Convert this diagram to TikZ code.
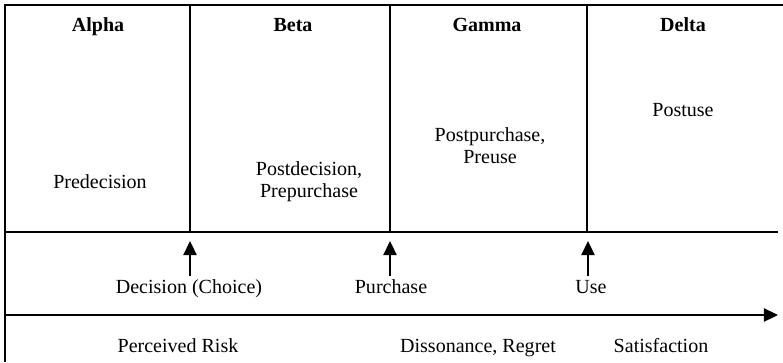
\documentclass[tikz,border=0pt]{standalone}
\usepackage{fontspec}
\setmainfont{Liberation Serif}
\usetikzlibrary{arrows.meta}

\begin{document}
\begin{tikzpicture}[x=0.02cm, y=-0.02cm, line width=1pt,
                    every node/.style={font=\fontsize{11.4}{12.6}\selectfont, inner sep=0pt},
                    word/.style={text height=1.55ex, text depth=0.45ex},
                    phase/.style={word, font=\fontsize{11.4}{12.6}\selectfont\bfseries},
                    stage/.style={align=center},
                    marker/.style={-{Triangle[length=8pt,width=7.5pt]}}]
  \useasboundingbox (0,0) rectangle (783,362);
  % frame and rows
  \coordinate (topL) at (5,5);
  \coordinate (topR) at (783,5);
  \coordinate (midL) at (5,232);
  \coordinate (midR) at (778,232);
  \coordinate (botL) at (5,362);
  \coordinate (axisL) at (5,315);
  \coordinate (axisR) at (778,315);
  \draw (topR) -- (topL) -- (botL);
  \draw (midL) -- (midR);
  \draw[marker] (axisL) -- (axisR);
  \foreach \x in {190,390,587}
    \draw (\x,5) -- (\x,232);
  % phases
  \node[phase] (alpha) at (98,27) {Alpha};
  \node[phase] (beta)  at (293,27) {Beta};
  \node[phase] (gamma) at (487,27) {Gamma};
  \node[phase] (delta) at (683,27) {Delta};
  \node[word]  (predec)  at (100,184) {Predecision};
  \node[stage] (postdec) at (309,182) {Postdecision,\\Prepurchase};
  \node[stage] (postpur) at (490,146) {Postpurchase,\\Preuse};
  \node[word]  (postuse) at (683,112) {Postuse};
  % events
  \node[word] (decision) at (189,289) {Decision (Choice)};
  \node[word] (purchase) at (391,289) {Purchase};
  \node[word] (use)      at (591,289) {Use};
  \coordinate (decTip) at (190,241);
  \coordinate (purTip) at (390,241);
  \coordinate (useTip) at (588,241);
  \draw[marker, shorten <=2.5pt] (decision.north -| decTip) -- (decTip);
  \draw[marker, shorten <=2.5pt] (purchase.north -| purTip) -- (purTip);
  \draw[marker, shorten <=2.5pt] (use.north -| useTip) -- (useTip);
  % outcomes
  \node[word] (risk)   at (178,348) {Perceived Risk};
  \node[word] (regret) at (478,348) {Dissonance, Regret};
  \node[word] (satis)  at (661,348) {Satisfaction};
\end{tikzpicture}
\end{document}
